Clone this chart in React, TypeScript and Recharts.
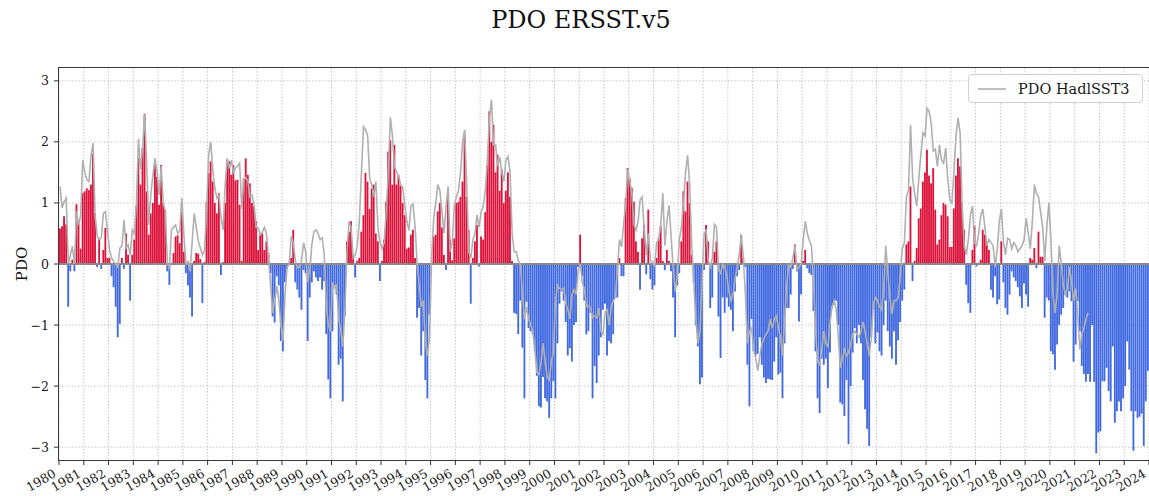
import React from "react";
import {
  ComposedChart,
  Bar,
  Cell,
  Line,
  XAxis,
  YAxis,
  CartesianGrid,
  ReferenceLine,
  Legend,
} from "recharts";

// Monthly PDO index from ERSST.v5, January 1980 onward (one row per year)
const pdoErsst: number[] = [
  0.58, 0.62, 0.78, 0.65, -0.70, -0.12, 0.07, -0.12, 0.98, 0.70, 0.25, 1.16,
  1.19, 1.24, 1.21, 1.30, 1.80, 0.83, -0.05, 0.42, -0.08, 0.23, 0.59, 0.10,
  0.10, -0.20, -0.38, -0.70, -1.20, -0.98, 0.10, -0.08, 0.50, 0.15, -0.60, 0.15,
  0.40, 0.95, 1.73, 1.30, 1.90, 2.45, 1.19, 0.48, 0.83, 1.00, 1.70, 1.43,
  0.97, 1.62, 1.00, 0.89, -0.12, -0.34, 0.02, 0.18, 0.45, 0.47, 0.34, 1.00,
  0.20, -0.15, -0.35, -0.55, -0.86, 0.05, 0.18, 0.17, 0.08, -0.64, 0.03, 1.02,
  1.49, 1.68, 1.35, 1.00, 0.83, 1.16, -0.18, 0.03, 1.00, 1.70, 1.68, 1.46,
  1.62, 1.37, 1.38, 0.97, 0.05, 1.40, 1.73, 1.46, 1.32, 1.00, 0.94, 0.70,
  0.23, 0.48, 0.50, 0.23, 0.37, 0.18, -0.15, -0.86, -0.96, -0.20, -0.35, -1.26,
  -1.43, -0.30, -0.08, 0.02, 0.10, 0.56, -0.30, -0.42, -0.55, -0.75, -0.10, -0.15,
  -1.26, -0.55, -0.30, -0.12, -0.22, -0.28, -0.22, -0.42, -0.28, -1.15, -1.89, -2.20,
  -1.10, -0.35, -0.50, -1.65, -1.55, -2.25, -0.85, 0.37, 0.53, 0.70, 0.15, -0.22,
  0.05, 0.10, 0.53, 0.80, 1.49, 1.35, 0.90, 1.24, 1.30, 0.50, 0.37, -0.28,
  0.05, 0.40, 1.02, 1.84, 2.03, 1.30, 1.95, 1.30, 1.45, 1.28, 1.00, 0.80,
  0.25, 0.27, 0.48, 0.56, 0.10, -0.88, -0.72, -1.50, -1.10, -1.90, -2.20, -0.83,
  0.02, 0.45, 0.48, 0.86, 1.00, 0.60, 0.15, -0.10, 1.24, 0.40, 0.06, 0.42,
  1.00, 1.02, 1.10, 1.35, 2.14, 1.10, 0.56, -0.65, 0.10, 0.37, 0.64, -0.04,
  0.45, 0.40, 0.85, 1.62, 2.50, 2.00, 2.28, 1.50, 1.79, 1.20, 1.55, 1.00,
  1.20, 1.50, 1.10, 0.05, -0.80, -0.82, -1.15, -0.60, -1.37, -2.20, -0.62, -1.05,
  -1.10, -1.15, -1.43, -1.83, -2.33, -2.35, -1.85, -2.20, -2.25, -2.52, -2.20, -1.92,
  -2.20, -1.30, -0.65, -0.45, -0.60, -0.95, -1.50, -1.38, -1.60, -1.00, -0.95, -0.05,
  0.48, -0.20, -0.60, -1.15, -1.10, -0.80, -2.20, -1.67, -1.95, -1.50, -1.20, -0.75,
  -0.65, -1.50, -1.26, -1.30, -1.15, -0.55, -0.55, 0.10, -0.20, -0.20, 1.08, 1.57,
  1.40, 1.25, 1.02, 0.37, 0.20, -0.42, 0.42, 0.64, -0.17, 0.89, -0.25, -0.42,
  -0.35, 0.10, 0.42, 0.62, 0.05, -0.10, 0.23, 0.05, -0.12, -0.55, -1.20, -0.35,
  -0.15, 0.37, 1.19, 0.86, 1.35, 1.00, 0.15, -0.30, -1.00, -1.35, -1.97, -1.86,
  -0.10, 0.64, 0.37, -0.72, -0.55, 0.20, 0.37, -0.86, -1.54, -0.55, -0.80, -0.55,
  -0.70, -0.75, -1.10, -0.45, -0.20, -0.10, 0.48, 0.10, -0.05, -1.65, -2.33, -0.90,
  -1.43, -1.50, -1.47, -1.20, -1.65, -1.86, -1.95, -1.88, -1.89, -1.90, -1.60, -1.20,
  -1.81, -1.78, -2.20, -1.30, -0.72, -0.72, -0.50, -0.08, 0.32, -0.12, -0.94, -0.50,
  0.05, 0.23, -0.07, -0.15, -0.18, -0.77, -1.43, -2.20, -2.44, -1.55, -1.65, -1.55,
  -2.03, -1.45, -0.72, -0.67, -0.60, -1.00, -2.27, -2.30, -2.49, -1.90, -2.95, -2.00,
  -1.45, -1.05, -1.30, -1.00, -1.30, -1.90, -2.38, -2.70, -2.98, -1.20, -0.75, -1.30,
  -1.12, -1.43, -1.50, -1.00, -0.60, -1.10, -1.35, -1.55, -1.10, -1.65, -1.25, -0.95,
  -0.60, -0.42, 0.32, 0.37, 1.27, -0.28, 0.05, 0.26, 0.75, 0.91, 1.35, 1.50,
  1.87, 1.45, 1.32, 1.57, 0.89, 0.32, 0.40, 0.80, 1.00, 0.97, 0.78, 0.28,
  0.28, 0.91, 1.45, 1.73, 1.60, 1.02, 0.56, -0.34, -0.64, -0.80, 0.23, 0.62,
  -0.04, 0.02, 0.07, 0.56, 0.48, 0.37, 0.23, -0.42, -0.55, -0.20, -0.66, -0.58,
  0.37, -0.30, -0.72, -0.83, -0.50, -0.12, -0.22, -0.28, -0.38, -0.53, -0.72, -0.32,
  -0.50, -0.70, 0.10, 0.07, 0.26, -0.07, 0.53, 0.12, 0.12, -0.88, -0.55, -0.60,
  -1.43, -1.48, -1.73, -1.32, -1.00, -0.83, -0.72, -0.50, -0.55, -0.45, -0.61, -1.60,
  -1.32, -0.61, -1.10, -1.67, -1.80, -1.93, -1.80, -1.93, -1.00, -1.93, -3.10, -2.76,
  -2.74, -1.92, -1.92, -1.70, -2.08, -2.25, -1.35, -2.60, -2.41, -2.25, -2.41, -2.20,
  -2.00, -1.27, -1.73, -2.41, -3.06, -2.41, -2.52, -2.50, -2.45, -2.98, -2.25, -1.75,
];

// Monthly PDO index from HadISST3, January 1980 onward (ends mid-2021)
const pdoHadisst: number[] = [
  1.27, 0.92, 1.02, 1.08, 0.00, 0.15, 0.29, 0.00, 0.86, 0.64, 0.80, 1.70,
  1.50, 1.38, 1.35, 1.78, 1.98, 0.80, 0.45, 0.40, 0.43, 0.83, 0.86, 0.53,
  0.23, 0.10, 0.04, 0.00, -0.05, 0.26, 0.30, 0.72, 0.26, 0.32, 0.15, 0.56,
  0.50, 1.00, 2.05, 1.55, 1.90, 2.47, 1.60, 0.64, 1.15, 1.45, 1.73, 1.50,
  1.13, 1.60, 1.00, 0.86, 0.00, -0.06, 0.56, 0.60, 0.64, 0.50, 0.54, 1.08,
  0.48, 0.00, 0.04, -0.12, 0.36, 0.83, 0.60, 0.37, 0.26, 0.15, 0.23, 0.90,
  1.79, 2.00, 1.55, 1.24, 1.08, 1.13, 0.75, 0.56, 1.30, 1.73, 1.57, 1.70,
  1.50, 1.57, 1.60, 1.65, 0.90, 1.38, 1.41, 1.37, 1.10, 1.13, 0.97, 0.60,
  0.59, 0.48, 0.53, 0.60, 0.50, 0.10, -0.35, -0.80, -0.60, -0.36, -0.60, -1.00,
  -1.26, -0.50, -0.05, 0.00, 0.45, 0.35, 0.05, -0.06, -0.05, 0.06, 0.35, 0.20,
  -0.30, -0.10, 0.32, 0.53, 0.56, 0.50, 0.40, 0.43, 0.15, -0.70, -1.00, -1.10,
  -0.30, -0.40, -0.35, -0.90, -1.10, -1.35, -0.75, 0.20, 0.70, 0.60, 0.10, 0.15,
  0.30, 0.70, 1.50, 2.25, 2.20, 2.10, 1.40, 1.30, 1.10, 1.35, 0.60, 0.35,
  0.25, 0.35, 0.85, 1.50, 2.40, 2.10, 1.60, 1.50, 1.45, 1.30, 1.25, 0.95,
  0.70, 0.55, 0.95, 0.98, 0.60, 0.00, -0.35, -0.70, -0.60, -1.30, -1.50, -1.20,
  0.10, 0.75, 1.00, 1.30, 1.20, 0.85, 0.50, 0.95, 1.27, 0.20, 0.35, 0.95,
  1.10, 1.20, 1.50, 2.00, 2.20, 1.30, 0.20, 0.10, 0.40, 0.50, 0.80, 0.60,
  0.85, 0.95, 1.20, 1.70, 2.40, 2.69, 1.95, 1.95, 1.60, 1.75, 1.50, 1.35,
  1.70, 1.76, 1.50, 0.50, 0.20, 0.20, 0.05, 0.00, -0.50, -0.90, -0.70, -0.90,
  -1.00, -1.10, -1.40, -1.78, -1.81, -1.60, -1.30, -1.60, -1.85, -1.90, -1.60, -1.45,
  -0.60, -0.35, -0.40, -0.42, -0.40, -0.65, -0.75, -0.90, -0.50, -0.42, -0.50, -0.10,
  0.00, -0.30, -0.42, -0.70, -0.68, -0.72, -0.88, -0.85, -0.88, -0.72, -1.10, -1.15,
  -0.80, -0.75, -1.00, -0.70, -0.60, -0.55, -0.10, 0.40, 0.28, 0.65, 1.00, 1.55,
  1.35, 1.15, 0.65, 0.55, 0.70, 1.05, 1.10, 0.55, 0.15, 0.50, 0.05, 0.03,
  -0.05, 0.35, 0.40, 0.65, 1.16, 0.30, 0.70, 0.96, 0.45, -0.05, -0.45, -0.20,
  0.40, 0.60, 1.00, 1.50, 1.78, 1.30, 0.30, -0.30, -0.90, -1.30, -1.10, -0.30,
  0.50, 0.55, 0.05, -0.05, 0.10, 0.65, 0.60, -0.10, -0.15, 0.00, -0.05, -0.20,
  -0.45, -0.60, -0.50, -0.25, -0.05, 0.15, 0.48, 0.10, -0.50, -1.30, -1.10, -1.05,
  -1.40, -1.55, -1.75, -1.50, -1.30, -1.22, -1.15, -1.10, -0.90, -1.05, -0.90, -0.85,
  -1.05, -1.20, -1.50, -0.90, -0.35, -0.02, -0.05, 0.10, 0.30, -0.10, -0.05, 0.00,
  0.40, 0.70, 0.50, 0.38, 0.30, -0.30, -1.10, -1.60, -1.65, -1.40, -1.10, -1.30,
  -1.35, -0.95, -0.70, -0.60, -0.75, -1.20, -1.70, -1.55, -1.40, -1.50, -1.45, -1.30,
  -1.15, -1.10, -1.15, -1.20, -1.10, -0.95, -1.10, -1.30, -1.50, -1.20, -0.65, -0.55,
  -0.60, -0.70, -0.75, -0.40, 0.30, -0.15, -0.55, -0.82, -0.60, -0.60, -0.55, -0.20,
  0.25, 0.35, 1.10, 1.20, 2.28, 1.40, 1.15, 0.95, 1.40, 1.80, 2.15, 2.10,
  2.55, 2.50, 2.30, 1.85, 1.88, 1.60, 1.95, 1.70, 1.65, 1.90, 1.40, 1.05,
  1.00, 1.50, 2.10, 2.39, 2.15, 0.95, 0.30, 0.15, 0.40, 0.80, 0.95, 0.35,
  0.30, 0.50, 0.80, 0.90, 0.60, 0.30, 0.40, 0.35, 0.30, -0.05, 0.25, 0.70,
  0.90, 0.35, 0.15, 0.42, 0.40, 0.25, 0.35, 0.30, 0.20, 0.25, 0.30, 0.40,
  0.75, 0.50, 0.25, 0.70, 1.30, 1.15, 1.10, 0.85, 0.60, 0.05, 0.60, 1.00,
  0.40, -0.50, -0.80, -0.50, 0.30, 0.00, -0.35, -0.50, -0.40, -0.05, -0.30, -0.60,
  -0.40, -0.85, -1.40, -1.15, -1.05, -0.90, -0.80,
];

const yearTicks: number[] = [
  1980, 1981, 1982, 1983, 1984, 1985, 1986, 1987, 1988, 1989,
  1990, 1991, 1992, 1993, 1994, 1995, 1996, 1997, 1998, 1999,
  2000, 2001, 2002, 2003, 2004, 2005, 2006, 2007, 2008, 2009,
  2010, 2011, 2012, 2013, 2014, 2015, 2016, 2017, 2018, 2019,
  2020, 2021, 2022, 2023, 2024,
];

const valueTicks: number[] = [-3, -2, -1, 0, 1, 2, 3];

const START_YEAR = 1980;
const END_YEAR = 2024;

const WIDTH = 1149;
const HEIGHT = 496;
const PLOT_LEFT = 59;
const PLOT_TOP = 68;
const AXIS_HEIGHT = 36;
const PLOT_BOTTOM = HEIGHT - AXIS_HEIGHT;

const POS_COLOR = "#DC143C";
const NEG_COLOR = "#4169E1";
const HAD_COLOR = "#b0b0b0";
const FONT = "'DejaVu Serif', serif";

const monthly = pdoErsst.map((v, i) => ({
  t: START_YEAR + (i + 0.5) / 12,
  pdo: v,
  had: i < pdoHadisst.length ? pdoHadisst[i] : null,
}));

// one month of plot width, widened a touch so neighbouring bars touch
const barWidth = (WIDTH - PLOT_LEFT) / ((END_YEAR - START_YEAR) * 12);

const YearTick = (props: any) => {
  const { x, y, payload } = props;
  const ax = x - 2;
  const ay = y + 9;
  return (
    <text
      x={ax}
      y={ay}
      transform={`rotate(-30, ${ax}, ${ay})`}
      textAnchor="end"
      fontFamily={FONT}
      fontSize={12.5}
      fill="#1a1a1a"
    >
      {payload.value}
    </text>
  );
};

const ValueTick = (props: any) => {
  const { x, y, payload } = props;
  const v = payload.value as number;
  const label = v < 0 ? `\u2212${Math.abs(v)}` : `${v}`;
  return (
    <text
      x={x - 3}
      y={y}
      dy="0.36em"
      textAnchor="end"
      fontFamily={FONT}
      fontSize={12.5}
      fill="#1a1a1a"
    >
      {label}
    </text>
  );
};

const LegendBox = () => (
  <div
    style={{
      width: 173,
      height: 27,
      border: "1px solid #d0d0d0",
      borderRadius: 4,
      background: "rgba(255,255,255,0.85)",
      display: "flex",
      alignItems: "center",
      boxSizing: "content-box",
    }}
  >
    <svg width={40} height={27} style={{ display: "block" }}>
      <line x1={9} y1={14} x2={37} y2={14} stroke={HAD_COLOR} strokeWidth={1.6} />
    </svg>
    <span
      style={{
        fontFamily: FONT,
        fontSize: 14.5,
        color: "#1a1a1a",
        marginLeft: 9,
        whiteSpace: "nowrap",
      }}
    >
      PDO HadlSST3
    </span>
  </div>
);

export default function App() {
  return (
    <div
      style={{
        position: "absolute",
        left: 0,
        top: 0,
        width: WIDTH,
        height: HEIGHT,
        background: "#ffffff",
        overflow: "hidden",
      }}
    >
      <div
        style={{
          position: "absolute",
          left: 0,
          top: 5,
          width: 1162,
          textAlign: "center",
          fontFamily: FONT,
          fontSize: 24,
          lineHeight: "30px",
          color: "#111",
        }}
      >
        PDO ERSST.v5
      </div>
      <div
        style={{
          position: "absolute",
          left: 22,
          top: 264,
          transform: "translate(-50%, -50%) rotate(-90deg)",
          fontFamily: FONT,
          fontSize: 15,
          color: "#111",
          whiteSpace: "nowrap",
        }}
      >
        PDO
      </div>
      <ComposedChart
        width={WIDTH}
        height={HEIGHT}
        data={monthly}
        margin={{ top: PLOT_TOP, right: 0, bottom: 0, left: 0 }}
        barCategoryGap={0}
        barGap={0}
      >
        <CartesianGrid
          stroke="#aaaaaa"
          strokeWidth={0.8}
          strokeDasharray="1.2 2"
          verticalValues={yearTicks}
          horizontalValues={valueTicks}
        />
        <XAxis
          type="number"
          dataKey="t"
          domain={[START_YEAR, END_YEAR]}
          ticks={yearTicks}
          interval={0}
          allowDataOverflow
          height={AXIS_HEIGHT}
          tickSize={5}
          tickLine={{ stroke: "#333" }}
          axisLine={false}
          tick={<YearTick />}
        />
        <YAxis
          type="number"
          domain={[-3.21, 3.21]}
          ticks={valueTicks}
          interval={0}
          allowDataOverflow
          width={PLOT_LEFT}
          tickSize={5}
          tickLine={{ stroke: "#333" }}
          axisLine={false}
          tick={<ValueTick />}
        />
        <Bar dataKey="pdo" barSize={barWidth + 0.3} isAnimationActive={false}>
          {monthly.map((d, i) => (
            <Cell key={i} fill={d.pdo >= 0 ? POS_COLOR : NEG_COLOR} />
          ))}
        </Bar>
        <ReferenceLine y={0} stroke="#8a8a8a" strokeWidth={1.8} />
        <Line
          type="linear"
          dataKey="had"
          name="PDO HadlSST3"
          stroke={HAD_COLOR}
          strokeWidth={1.6}
          dot={false}
          activeDot={false}
          connectNulls={false}
          isAnimationActive={false}
        />
        <Legend
          layout="horizontal"
          verticalAlign="middle"
          align="center"
          content={<LegendBox />}
          wrapperStyle={{ position: "absolute", left: 968, top: 74, width: 176, height: 30 }}
        />
      </ComposedChart>
      <div
        style={{
          position: "absolute",
          left: PLOT_LEFT - 1,
          top: PLOT_TOP - 1,
          width: WIDTH - PLOT_LEFT,
          height: PLOT_BOTTOM - PLOT_TOP,
          border: "1px solid #3a3a3a",
          pointerEvents: "none",
        }}
      />
    </div>
  );
}
